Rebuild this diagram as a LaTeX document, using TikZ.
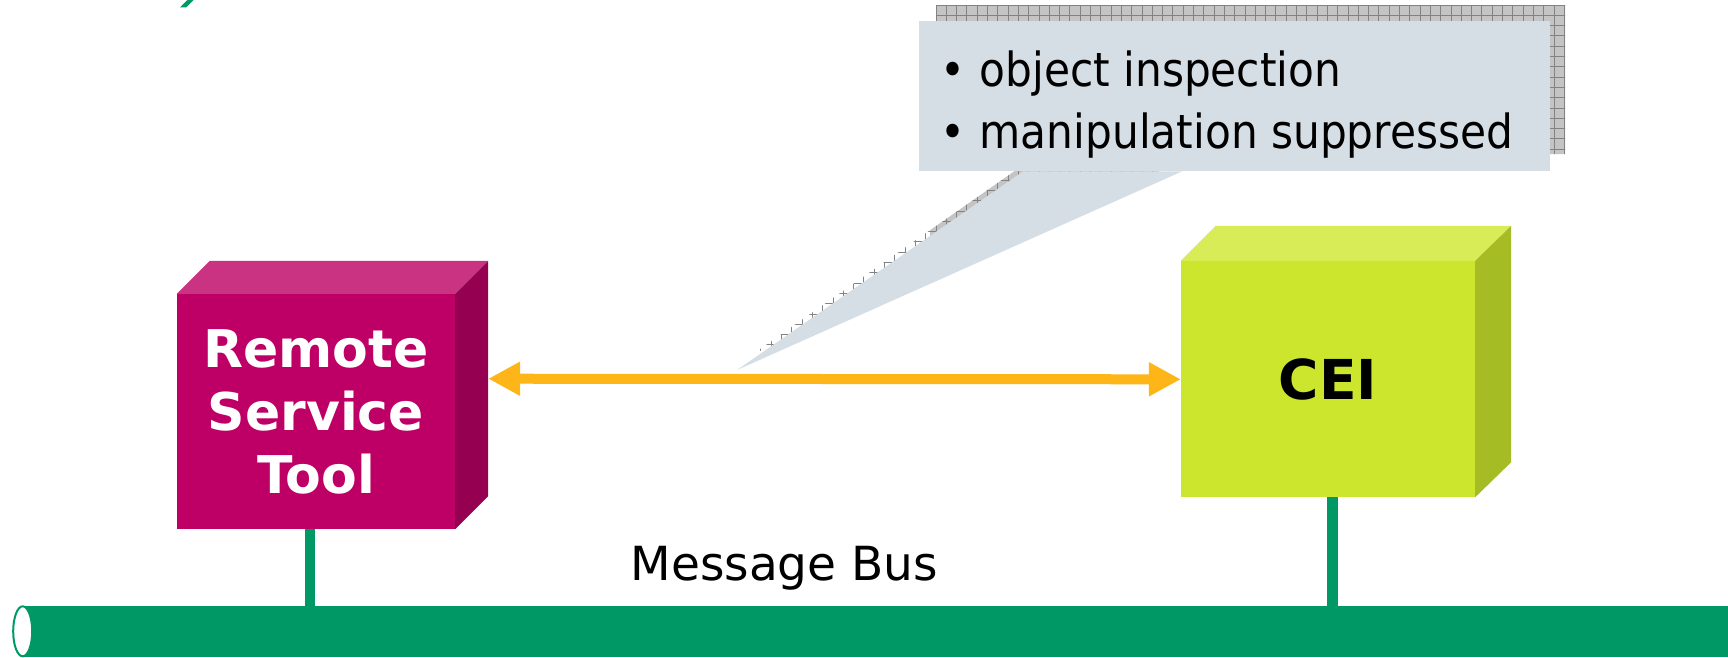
\documentclass[tikz,border=0pt]{standalone}
\usepackage{fontspec}
\setmainfont{DejaVu Sans}
\newfontfamily\calloutfont[FakeStretch=0.9]{DejaVu Sans}
\usetikzlibrary{arrows.meta}

\definecolor{busgreen}{RGB}{0,153,102}
\definecolor{rstfront}{RGB}{190,0,102}
\definecolor{rsttop}{RGB}{202,50,130}
\definecolor{rstside}{RGB}{150,0,80}
\definecolor{ceifront}{RGB}{204,230,46}
\definecolor{ceitop}{RGB}{215,236,86}
\definecolor{ceiside}{RGB}{166,188,36}
\definecolor{calloutbg}{RGB}{214,222,229}
\definecolor{shadowbg}{RGB}{196,196,196}
\definecolor{shadowgrid}{RGB}{130,130,130}
\definecolor{linkorange}{RGB}{253,181,24}

\tikzset{
  frontface/.style={rectangle, inner sep=0pt, align=center},
  boxlabel/.style={font=\bfseries\fontsize{52}{63}\selectfont},
  buslink/.style={draw=busgreen, line width=10.5pt},
  duplex/.style={draw=linkorange, line width=10pt,
    {Triangle[length=32pt,width=32pt]}-{Triangle[length=32pt,width=32pt]}},
  calltext/.style={font=\calloutfont\fontsize{47}{61}\selectfont, inner sep=0pt},
}

\begin{document}
\begin{tikzpicture}[x=1pt,y=-1pt]
\useasboundingbox[fill=white] (0,0) rectangle (1728,657);

% stroke of the clipped heading at the top edge
\fill[busgreen] (180,7.3) -- (186.3,7.3) -- (193.5,0) -- (187.5,0) -- cycle;

% callout shadow with its grid texture
\begin{scope}
  \clip (936,5) -- (1565,5) -- (1565,154) -- (1198,154) -- (753,354)
        -- (1039,154) -- (936,154) -- cycle;
  \fill[shadowbg] (930,0) rectangle (1570,360);
  \draw[shadowgrid, line width=0.9pt, shift={(936,5)}, step=10.3pt]
        (-200,0) grid (640,360);
\end{scope}

% callout body and its tail
\node[fill=calloutbg, minimum width=631pt, minimum height=150pt,
      inner sep=0pt, anchor=north west] (call) at (919,21) {};
\coordinate (tip) at (737,370);
\fill[calloutbg] ([xshift=104pt]call.south west) -- ([xshift=263pt]call.south west)
      -- (tip) -- cycle;
\node[calltext, anchor=base] (b1) at (952.5,86.7) {•};
\node[calltext, anchor=base west] (t1) at (979.5,86.7) {object inspection};
\node[calltext, anchor=base] (b2) at (952.5,148) {•};
\node[calltext, anchor=base west] (t2) at (979.5,148) {manipulation suppressed};

% message bus
\node[fill=busgreen, minimum width=1705.3pt, minimum height=51.5pt,
      inner sep=0pt, anchor=north west] (bus) at (22.7,605.5) {};
\draw[busgreen, line width=2pt, fill=white] (22.7,631.3) ellipse [x radius=9.5, y radius=25];
\node[font=\fontsize{47}{56}\selectfont, inner sep=0pt, anchor=base west]
      (buslabel) at (630.5,580) {Message Bus};

% Remote Service Tool block
\node[frontface, fill=rstfront, minimum width=278pt, minimum height=235pt,
      boxlabel, text=white] (rst) at (316,411.5) {Remote\\Service\\Tool};
\fill[rsttop] (rst.north west) -- ++(33,-33) -- ([shift={(33,-33)}]rst.north east)
      -- (rst.north east) -- cycle;
\fill[rstside] (rst.north east) -- ([shift={(33,-33)}]rst.north east)
      -- ([shift={(33,-33)}]rst.south east) -- (rst.south east) -- cycle;

% CEI block
\node[frontface, fill=ceifront, minimum width=294pt, minimum height=236pt,
      boxlabel, font=\bfseries\fontsize{55}{63}\selectfont, text=black] (cei) at (1328,379) {CEI};
\fill[ceitop] (cei.north west) -- ++(35,-35) -- ([shift={(36,-35)}]cei.north east)
      -- (cei.north east) -- cycle;
\fill[ceiside] (cei.north east) -- ([shift={(36,-35)}]cei.north east)
      -- ([shift={(36,-35)}]cei.south east) -- (cei.south east) -- cycle;

% links to the bus
\draw[buslink] ([xshift=-6pt]rst.south) -- ([xshift=-6pt]rst.south |- bus.north);
\draw[buslink] ([xshift=4.5pt]cei.south) -- ([xshift=4.5pt]cei.south |- bus.north);

% two-way link between the blocks
\coordinate (linkL) at ([shift={(33,-32.8)}]rst.east);
\coordinate (linkR) at ([yshift=-0.3pt]cei.west);
\draw[duplex] (linkL) -- (linkR);
\end{tikzpicture}
\end{document}
